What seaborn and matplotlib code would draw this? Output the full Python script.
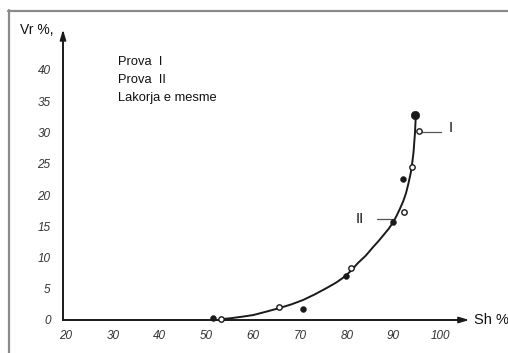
import matplotlib
matplotlib.use("Agg")
import matplotlib.pyplot as plt
from matplotlib.lines import Line2D
from matplotlib.transforms import ScaledTranslation
import seaborn as sns

sns.set_style("white")
plt.rcParams["font.family"] = ["Liberation Sans", "DejaVu Sans"]

prova1_x = [52.1, 71.3, 80.4, 90.6, 92.6]
prova1_y = [0.3, 1.7, 7.0, 15.7, 22.6]
top_x = [95.3]
top_y = [32.8]
prova2_x = [53.8, 66.2, 81.5, 92.9, 94.5, 96.1]
prova2_y = [0.2, 2.1, 8.4, 17.3, 24.5, 30.3]

# mean curve (lakorja e mesme)
curve_x = [53.5, 56.0, 58.5, 60.7, 63.5, 66.2, 68.8, 71.3, 73.8, 76.3, 78.4,
           80.3, 81.7, 83.0, 84.7, 86.3, 87.5, 88.5, 89.6, 90.6, 91.3, 92.0,
           92.7, 93.3, 93.8, 94.3, 94.6, 94.9, 95.05, 95.2, 95.3, 95.4]
curve_y = [0.1, 0.3, 0.55, 0.8, 1.35, 1.9, 2.5, 3.2, 4.1, 5.1, 6.0,
           7.0, 8.0, 9.1, 10.3, 11.7, 12.7, 13.6, 14.6, 15.7, 16.7, 17.8,
           19.0, 20.3, 21.8, 23.5, 25.0, 26.8, 28.3, 29.8, 31.3, 32.8]

xticks = [20, 30, 40, 50, 60, 70, 80, 90, 100]
yticks = [0, 5, 10, 15, 20, 25, 30, 35, 40]
legend_lines = ["Prova  I", "Prova  II", "Lakorja e mesme"]

fig = plt.figure(figsize=(5.08, 3.53), dpi=100)
ax = fig.add_axes([0, 0, 1, 1])

sns.lineplot(x=curve_x, y=curve_y, sort=False, estimator=None,
             color="#1a1a1a", linewidth=1.4, ax=ax)
sns.scatterplot(x=prova1_x, y=prova1_y, color="#1a1a1a", edgecolor="#1a1a1a",
                s=18, ax=ax, zorder=3)
sns.scatterplot(x=top_x, y=top_y, color="#1a1a1a", edgecolor="#1a1a1a",
                s=36, ax=ax, zorder=3)
sns.scatterplot(x=prova2_x, y=prova2_y, facecolor="white", edgecolor="#1a1a1a",
                linewidth=1.0, s=15, ax=ax, zorder=3)

ax.set_xlim(6.54, 115.09)
ax.set_ylim(-5.28, 51.2)

for s in ["top", "right"]:
    ax.spines[s].set_visible(False)
ax.spines["left"].set_position(("data", 20))
ax.spines["bottom"].set_position(("data", 0))
ax.spines["left"].set_bounds(0, 46)
ax.spines["bottom"].set_bounds(20, 106)
for s in ["left", "bottom"]:
    ax.spines[s].set_color("#1a1a1a")
    ax.spines[s].set_linewidth(1.4)

# arrow heads
ax.annotate("", xy=(20, 46.9), xytext=(20, 44.5),
            arrowprops=dict(arrowstyle="-|>,head_length=0.6,head_width=0.18",
                            color="#1a1a1a", lw=1.2))
ax.annotate("", xy=(107.4, 0), xytext=(104.5, 0),
            arrowprops=dict(arrowstyle="-|>,head_length=0.6,head_width=0.18",
                            color="#1a1a1a", lw=1.2))

ax.set_xticks(xticks)
ax.set_yticks(yticks)
ax.set_xticklabels([str(v) for v in xticks], style="italic", fontsize=8.5, color="#333333")
ax.set_yticklabels([str(v) for v in yticks], style="italic", fontsize=8.5, color="#333333")
ax.tick_params(axis="x", direction="in", length=3, width=1, pad=7, colors="#333333")
ax.tick_params(axis="y", direction="out", length=3, width=1, pad=6, colors="#333333")
shift = ScaledTranslation(3 / 100, 0, fig.dpi_scale_trans)
for lab in ax.get_xticklabels():
    lab.set_transform(lab.get_transform() + shift)
ax.set_xlabel("")
ax.set_ylabel("")

ax.text(107.8, 0, "Sh %", fontsize=10.5, va="center", ha="left", color="#111111")
ax.text(10.8, 46.4, "Vr %,", fontsize=10, va="center", ha="left", color="#111111")

for i, t in enumerate(legend_lines):
    ax.text(31.8, 41.3 - i * 2.85, t, fontsize=9.3, va="center", ha="left", color="#111111")

# curve labels with leader lines
ax.plot([96.4, 100.8], [30.1, 30.1], color="#555555", linewidth=0.9)
ax.text(102.3, 30.8, "I", fontsize=10.5, va="center", ha="left", color="#111111")
ax.plot([87.2, 90.5], [16.2, 16.2], color="#555555", linewidth=0.9)
ax.text(82.6, 16.2, "II", fontsize=10.5, va="center", ha="left", color="#111111")

# grey frame around the scan
fig.add_artist(Line2D([8 / 508, 1], [1 - 10.5 / 353, 1 - 10.5 / 353],
                      transform=fig.transFigure, color="#8a8a8a", linewidth=1.6))
fig.add_artist(Line2D([8.5 / 508, 8.5 / 508], [0, 1 - 10 / 353],
                      transform=fig.transFigure, color="#8a8a8a", linewidth=1.6))

fig.savefig("out.png", dpi=100)
